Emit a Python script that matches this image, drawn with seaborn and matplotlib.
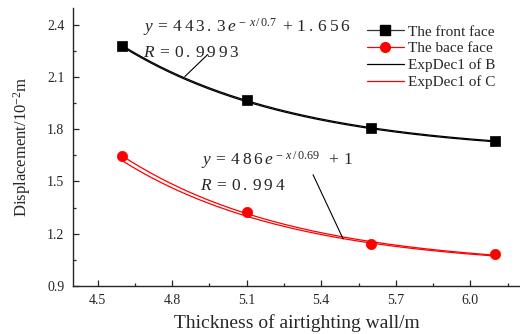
import numpy as np
import pandas as pd
import matplotlib
matplotlib.use("Agg")
import matplotlib.pyplot as plt
from matplotlib.lines import Line2D
from matplotlib.ticker import MultipleLocator
import seaborn as sns

# data
thickness = [4.6, 5.1, 5.6, 6.1]
front_face = [2.283, 1.968, 1.808, 1.735]
back_face = [1.645, 1.323, 1.140, 1.082]

# ExpDec1 parameters printed on the chart: y = A*exp(-x/t) + y0
fit_b = {"A": 443.3, "t": 0.7, "y0": 1.656}
fit_c = {"A": 486.0, "t": 0.69, "y0": 1.0}

series_names = ["The front face", "The bace face", "ExpDec1 of B", "ExpDec1 of C"]

sns.set_style("ticks")
plt.rcParams["font.family"] = ["Liberation Serif", "DejaVu Serif"]
plt.rcParams["mathtext.fontset"] = "custom"
plt.rcParams["mathtext.rm"] = "Liberation Serif"
plt.rcParams["mathtext.it"] = "Liberation Serif:italic"
plt.rcParams["axes.unicode_minus"] = False


def lsq_expdec(x, y):
    # least squares ExpDec1 used as the smooth connecting line of the series
    x = np.asarray(x)
    y = np.asarray(y)
    best = None
    for t in np.linspace(0.2, 3.0, 2801):
        M = np.column_stack([np.ones_like(x), np.exp(-x / t)])
        coef, res, _, _ = np.linalg.lstsq(M, y, rcond=None)
        err = np.sum((M @ coef - y) ** 2)
        if best is None or err < best[0]:
            best = (err, t, coef)
    _, t, coef = best
    return {"A": coef[1], "t": t, "y0": coef[0]}


def expdec(xs, p):
    return p["A"] * np.exp(-xs / p["t"]) + p["y0"]


xs = np.linspace(thickness[0], thickness[-1], 200)
line_b = lsq_expdec(thickness, front_face)
line_c = lsq_expdec(thickness, back_face)

curves = pd.DataFrame({
    "x": np.concatenate([xs] * 4),
    "y": np.concatenate([expdec(xs, line_b), expdec(xs, line_c),
                         expdec(xs, fit_b), expdec(xs, fit_c)]),
    "curve": np.repeat(["sB", "sC", "fB", "fC"], len(xs)),
})
pts = pd.DataFrame({
    "x": thickness * 2,
    "y": front_face + back_face,
    "face": ["front"] * 4 + ["back"] * 4,
})

fig = plt.figure(figsize=(5.2, 3.34), dpi=100)
ax = fig.add_axes([0.14, 0.145, 0.86, 0.831])

sns.lineplot(data=curves, x="x", y="y", hue="curve",
             palette={"sB": "black", "sC": "red", "fB": "black", "fC": "red"},
             linewidth=0.9, legend=False, ax=ax, sort=False, estimator=None)
sns.scatterplot(data=pts[pts.face == "front"], x="x", y="y", marker="s",
                color="black", s=45, edgecolor="black", linewidth=0.5,
                ax=ax, zorder=5, legend=False)
sns.scatterplot(data=pts[pts.face == "back"], x="x", y="y", marker="o",
                color="red", s=55, edgecolor="red", linewidth=0.5,
                ax=ax, zorder=5, legend=False)

ax.set_xlim(4.4, 6.2)
ax.set_ylim(0.9, 2.5)
ax.xaxis.set_minor_locator(MultipleLocator(0.15))
ax.yaxis.set_minor_locator(MultipleLocator(0.15))
ax.set_xticks([4.5, 4.8, 5.1, 5.4, 5.7, 6.0])
ax.set_xticklabels(["4.5", "4.8", "5.1", "5.4", "5.7", "6.0"])
ax.set_yticks([0.9, 1.2, 1.5, 1.8, 2.1, 2.4])
ax.set_yticklabels(["0.9", "1.2", "1.5", "1.8", "2.1", "2.4"])
ax.tick_params(which="major", direction="in", length=4.5, width=0.9,
               labelsize=10, pad=6)
ax.tick_params(which="minor", direction="in", length=2.5, width=0.9)
for s in ["left", "bottom"]:
    ax.spines[s].set_linewidth(1.0)
sns.despine(ax=ax)

ax.set_xlabel("Thickness of airtighting wall/m", fontsize=14, labelpad=5)
ax.set_ylabel(r"Displacement/10$^{\mathregular{-2}}$m", fontsize=12, labelpad=10)

# equations
eq_b = r"$y\:=\:4\:4\:3\:.\:3\,e^{\,-\,x\,/\,0.7}\;+\,1\:.\:6\:5\:6$"
eq_c = r"$y\:=\:4\:8\:6\,e^{\,-\,x\,/\,0.69}\;\;+\:1$"
ax.text(4.682, 2.365, eq_b, fontsize=12.5)
ax.text(4.682, 2.22, r"$R\:=\:0\:.\:9\:9\:9\:3$", fontsize=12.5)
ax.text(4.918, 1.597, eq_c, fontsize=12.5)
ax.text(4.912, 1.452, r"$R\:=\:0\:.\:9\:9\:4$", fontsize=12.5)
ax.plot([4.943, 4.851], [2.232, 2.105], color="black", lw=0.8)
ax.plot([5.367, 5.488], [1.539, 1.169], color="black", lw=0.8)

handles = [
    Line2D([], [], color="#333333", lw=0.9, marker="s", ms=6.5, mfc="black", mec="black"),
    Line2D([], [], color="red", lw=0.9, marker="o", ms=7, mfc="red", mec="red"),
    Line2D([], [], color="black", lw=0.9),
    Line2D([], [], color="red", lw=0.9),
]
ax.legend(handles, series_names, loc="upper left",
          bbox_to_anchor=(367 / 520, 1 - 25 / 334), bbox_transform=fig.transFigure,
          frameon=False, fontsize=11, handlelength=2.42, handletextpad=0.26,
          labelspacing=0.2, borderaxespad=0, borderpad=0)

fig.savefig("out.png", dpi=100)
